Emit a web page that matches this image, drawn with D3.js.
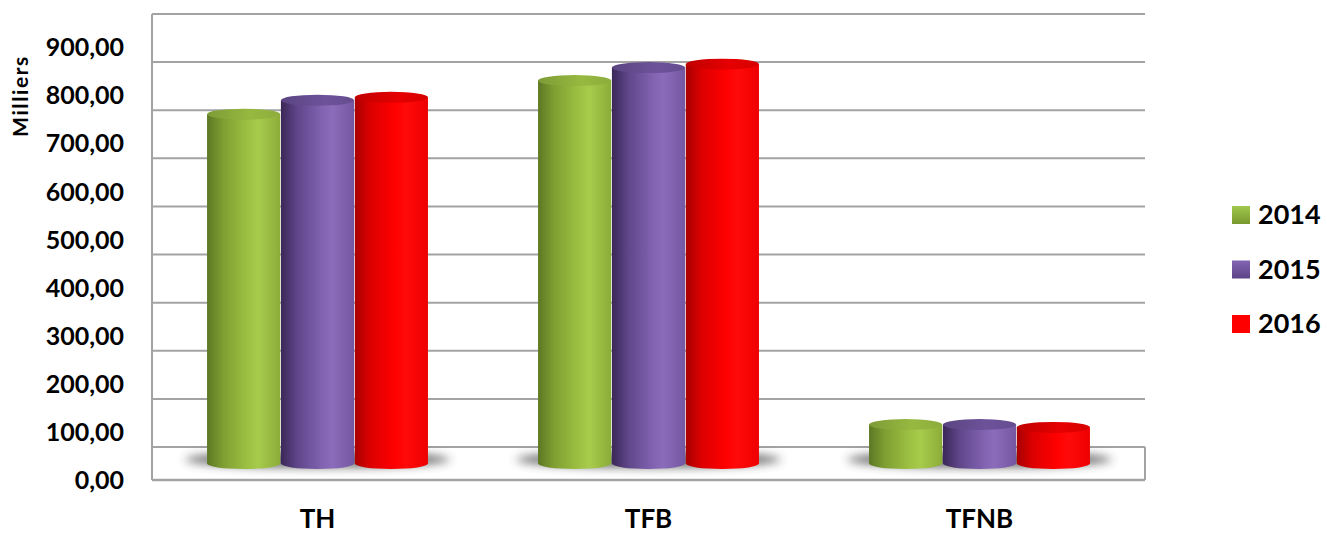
<!DOCTYPE html>
<html>
<head>
<meta charset="utf-8">
<script src="https://cdn.jsdelivr.net/npm/d3@7"></script>
<style>
  html, body { margin: 0; padding: 0; background: #ffffff; }
  svg { display: block; }
  text { font-family: Lato, "Open Sans", sans-serif; font-weight: 700; fill: #000; }
</style>
</head>
<body>
<svg id="chart" width="1327" height="535"></svg>
<script>
// Categories, series and tick values
const categories = ["TH", "TFB", "TFNB"];
const seriesNames = ["2014", "2015", "2016"];
const values2014 = [726, 796, 81];
const values2015 = [755, 823, 81];
const values2016 = [761, 830, 75];
const tickValues = [0, 100, 200, 300, 400, 500, 600, 700, 800, 900];
const yAxisTitle = "Milliers";

const seriesValues = [values2014, values2015, values2016];

const W = 1327, H = 535;
const plotLeft = 152, plotRight = 1145;
const floorBack = 447;   // bottom of the back wall
const depth = 33;        // vertical offset between back wall and front edge of the floor

const svg = d3.select("#chart");
const defs = svg.append("defs");

// Value scale on the back wall; front and mid-depth planes are shifted down
const y = d3.scaleLinear().domain([0, 900]).range([floorBack, floorBack - 433]);
const yFront = v => y(v) + depth;
const yMid = v => y(v) + depth / 2;

const x0 = d3.scaleBand().domain(categories).range([plotLeft, plotRight]).padding(0);
const x1 = d3.scaleBand().domain(seriesNames).range([0, x0.bandwidth()])
  .paddingOuter(0.745).paddingInner(0.01);

// Cylinder shading per series
const palette = {
  "2014": { stops: ["#5c7824", "#7f9f32", "#9cc042", "#a7cc4c", "#8cac38"], top: "#97b940", legend: ["#a2c84e", "#78982e"] },
  "2015": { stops: ["#3b2857", "#5f4589", "#8062b0", "#8b6cbb", "#7457a2"], top: "#6d529a", legend: ["#8264b2", "#5e4388"] },
  "2016": { stops: ["#a80000", "#dd0000", "#ff0000", "#ff0a0a", "#ee0000"], top: "#e60000", legend: ["#ff0000", "#ff0000"] }
};
const stopOffsets = [0, 0.22, 0.55, 0.7, 1];

seriesNames.forEach(s => {
  const g = defs.append("linearGradient").attr("id", "body" + s)
    .attr("x1", "0").attr("x2", "1").attr("y1", "0").attr("y2", "0");
  palette[s].stops.forEach((c, i) => g.append("stop").attr("offset", stopOffsets[i]).attr("stop-color", c));
  const t = defs.append("linearGradient").attr("id", "top" + s)
    .attr("x1", "0").attr("x2", "1").attr("y1", "0").attr("y2", "0");
  t.append("stop").attr("offset", 0).attr("stop-color", d3.color(palette[s].top).darker(0.5));
  t.append("stop").attr("offset", 0.6).attr("stop-color", palette[s].top);
  t.append("stop").attr("offset", 1).attr("stop-color", d3.color(palette[s].top).darker(0.2));
  const l = defs.append("linearGradient").attr("id", "leg" + s)
    .attr("x1", "0").attr("x2", "0").attr("y1", "0").attr("y2", "1");
  l.append("stop").attr("offset", 0).attr("stop-color", palette[s].legend[0]);
  l.append("stop").attr("offset", 1).attr("stop-color", palette[s].legend[1]);
});

defs.append("filter").attr("id", "soft").attr("x", "-20%").attr("y", "-100%").attr("width", "140%").attr("height", "300%")
  .append("feGaussianBlur").attr("stdDeviation", 5);
defs.append("filter").attr("id", "lineblur")
  .append("feGaussianBlur").attr("stdDeviation", 0.6);

// Back wall gridlines
const grid = svg.append("g").attr("filter", "url(#lineblur)");
grid.selectAll("line.grid").data(tickValues.filter(v => v > 0)).join("line")
  .attr("x1", plotLeft).attr("x2", plotRight)
  .attr("y1", d => y(d)).attr("y2", d => y(d))
  .attr("stroke", "#a3a3a3").attr("stroke-width", 2);

// Floor outline and left wall edge
grid.append("line").attr("x1", plotLeft).attr("x2", plotRight).attr("y1", y(0)).attr("y2", y(0))
  .attr("stroke", "#a3a3a3").attr("stroke-width", 2);
grid.append("line").attr("x1", plotLeft).attr("x2", plotRight).attr("y1", yFront(0)).attr("y2", yFront(0))
  .attr("stroke", "#a3a3a3").attr("stroke-width", 2.5);
grid.append("line").attr("x1", plotLeft).attr("x2", plotLeft).attr("y1", y(900)).attr("y2", yFront(0))
  .attr("stroke", "#a3a3a3").attr("stroke-width", 2);
grid.append("line").attr("x1", plotRight).attr("x2", plotRight).attr("y1", y(0)).attr("y2", yFront(0))
  .attr("stroke", "#a3a3a3").attr("stroke-width", 2);

// Shadows under each group of cylinders
const groupSpan = cat => {
  const a = x0(cat) + x1(seriesNames[0]);
  const b = x0(cat) + x1(seriesNames[seriesNames.length - 1]) + x1.bandwidth();
  return [a, b];
};
svg.append("g").selectAll("ellipse").data(categories).join("ellipse")
  .attr("cx", d => d3.mean(groupSpan(d)))
  .attr("cy", yMid(0) - 4)
  .attr("rx", d => (groupSpan(d)[1] - groupSpan(d)[0]) / 2 + 22)
  .attr("ry", 8)
  .attr("fill", "#3a3a3a").attr("opacity", 0.75)
  .attr("filter", "url(#soft)");

// Cylinders
const ry = 5.5;
const bars = [];
categories.forEach((cat, ci) => {
  seriesNames.forEach((s, si) => {
    bars.push({ cat, s, v: seriesValues[si][ci] });
  });
});

const cyl = svg.append("g").selectAll("g.cyl").data(bars).join("g").attr("class", "cyl");
cyl.append("path")
  .attr("d", d => {
    const xl = x0(d.cat) + x1(d.s), xr = xl + x1.bandwidth();
    const rx = (xr - xl) / 2;
    const yt = yMid(d.v), yb = yMid(0);
    return `M${xl},${yt} L${xl},${yb} A${rx},${ry} 0 0 0 ${xr},${yb} L${xr},${yt} Z`;
  })
  .attr("fill", d => `url(#body${d.s})`);
cyl.append("ellipse")
  .attr("cx", d => x0(d.cat) + x1(d.s) + x1.bandwidth() / 2)
  .attr("cy", d => yMid(d.v))
  .attr("rx", x1.bandwidth() / 2)
  .attr("ry", ry)
  .attr("fill", d => `url(#top${d.s})`);

// Value axis labels on the front plane
const yAxisScale = d3.scaleLinear().domain([0, 900]).range([yFront(0), yFront(900)]);
const fmt = v => d3.format(".2f")(v).replace(".", ",");
const yAxis = svg.append("g").attr("transform", "translate(124,0)")
  .call(d3.axisLeft(yAxisScale).tickValues(tickValues).tickFormat(fmt).tickSize(0).tickPadding(0));
yAxis.select(".domain").remove();
yAxis.selectAll("text").style("font-family", "Lato, 'Open Sans', sans-serif")
  .style("font-weight", 700).style("font-size", "25px").attr("fill", "#000").attr("dy", "0.35em");

svg.append("text")
  .attr("transform", "translate(28,96) rotate(-90)")
  .attr("text-anchor", "middle")
  .style("font-size", "21px")
  .style("letter-spacing", "1.6px")
  .text(yAxisTitle);

// Category axis
const xAxis = svg.append("g").attr("transform", `translate(0,${yFront(0)})`)
  .call(d3.axisBottom(x0).tickSize(0).tickPadding(0));
xAxis.select(".domain").remove();
xAxis.selectAll("text").style("font-family", "Lato, 'Open Sans', sans-serif")
  .style("font-weight", 700).style("font-size", "26px").attr("fill", "#000")
  .attr("y", 39).attr("dy", "0.35em");

// Legend
const legend = svg.append("g").selectAll("g").data(seriesNames).join("g")
  .attr("transform", (d, i) => `translate(1232,${215 + i * 54.5})`);
legend.append("rect").attr("x", 0).attr("y", -9).attr("width", 18).attr("height", 18)
  .attr("fill", d => `url(#leg${d})`);
legend.append("text").attr("x", 26).attr("y", 0).attr("dy", "0.35em")
  .style("font-size", "27px").text(d => d);
</script>
</body>
</html>
